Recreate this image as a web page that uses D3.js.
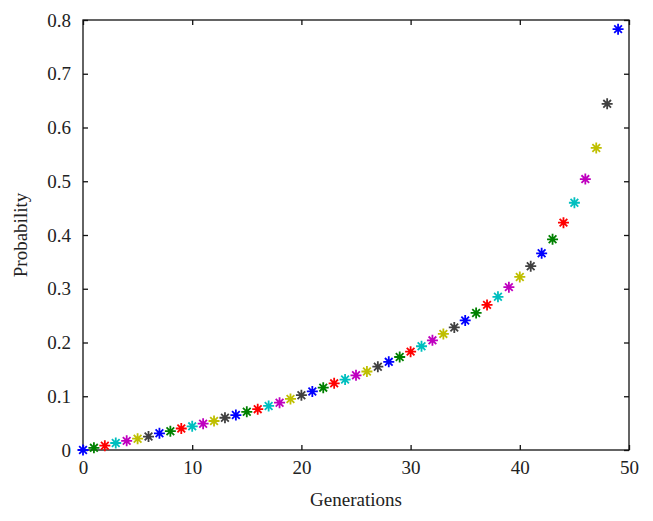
<!DOCTYPE html>
<html>
<head>
<meta charset="utf-8">
<script src="https://d3js.org/d3.v7.min.js"></script>
<style>
  body { margin: 0; background: #fff; }
  text { font-family: "Liberation Serif", "DejaVu Serif", serif; fill: #222; }
</style>
</head>
<body>
<div id="chart"></div>
<script>
// values
var generations = d3.range(0, 50);
var probability = [0, 0.004, 0.008, 0.013, 0.017, 0.021, 0.025, 0.031, 0.035, 0.040,
                   0.044, 0.049, 0.054, 0.060, 0.065, 0.071, 0.076, 0.082, 0.088, 0.095,
                   0.102, 0.109, 0.116, 0.124, 0.131, 0.139, 0.146, 0.155, 0.164, 0.173,
                   0.183, 0.193, 0.204, 0.216, 0.228, 0.241, 0.255, 0.270, 0.285, 0.303,
                   0.322, 0.342, 0.366, 0.392, 0.423, 0.460, 0.504, 0.562, 0.644, 0.783];
var colorCycle = ["#0000ff", "#008000", "#ff0000", "#00bfbf", "#bf00bf", "#bfbf00", "#404040"];
var xTicks = [0, 10, 20, 30, 40, 50];
var yTicks = [0, 0.1, 0.2, 0.3, 0.4, 0.5, 0.6, 0.7, 0.8];

var W = 653, H = 521;
var margin = {top: 20, right: 24, bottom: 71, left: 83};
var width = W - margin.left - margin.right;
var height = H - margin.top - margin.bottom;

var x = d3.scaleLinear().domain([0, 50]).range([0, width]);
var y = d3.scaleLinear().domain([0, 0.8]).range([height, 0]);

var svg = d3.select("#chart").append("svg")
    .attr("width", W).attr("height", H)
  .append("g")
    .attr("transform", "translate(" + margin.left + "," + margin.top + ")");

// box
svg.append("rect")
   .attr("width", width).attr("height", height)
   .attr("fill", "none").attr("stroke", "#111").attr("stroke-width", 1.3);

// axes with inward ticks
function styleAxis(g) {
  g.select(".domain").remove();
  g.selectAll(".tick line").attr("stroke", "#111").attr("stroke-width", 1.3);
  g.selectAll(".tick text").style("font-size", "19px").attr("fill", "#222");
}
svg.append("g").attr("transform", "translate(0," + height + ")")
   .call(d3.axisBottom(x).tickValues(xTicks).tickSizeInner(-5).tickPadding(11).tickFormat(d3.format("d")))
   .call(styleAxis);
svg.append("g")
   .call(d3.axisTop(x).tickValues(xTicks).tickSizeInner(-5).tickFormat(""))
   .call(styleAxis);
svg.append("g")
   .call(d3.axisLeft(y).tickValues(yTicks).tickSizeInner(-5).tickPadding(12).tickFormat(function(d){ return d === 0 ? "0" : d3.format(".1f")(d); }))
   .call(styleAxis);
svg.append("g").attr("transform", "translate(" + width + ",0)")
   .call(d3.axisRight(y).tickValues(yTicks).tickSizeInner(-5).tickFormat(""))
   .call(styleAxis);

// asterisk markers
var r = 5.5;
var star = "M" + (-r) + ",0L" + r + ",0M0," + (-r) + "L0," + r +
           "M" + (-r*0.7) + "," + (-r*0.7) + "L" + (r*0.7) + "," + (r*0.7) +
           "M" + (-r*0.7) + "," + (r*0.7) + "L" + (r*0.7) + "," + (-r*0.7);
svg.selectAll("path.pt")
   .data(generations)
   .enter().append("path")
   .attr("class", "pt")
   .attr("d", star)
   .attr("transform", function(d, i){ return "translate(" + x(d) + "," + y(probability[i]) + ")"; })
   .attr("fill", "none")
   .attr("stroke", function(d, i){ return colorCycle[i % colorCycle.length]; })
   .attr("stroke-width", 1.8);

// labels
svg.append("text")
   .attr("x", width / 2).attr("y", height + 56)
   .attr("text-anchor", "middle").style("font-size", "19px")
   .text("Generations");
svg.append("text")
   .attr("transform", "translate(-56," + (height / 2) + ") rotate(-90)")
   .attr("text-anchor", "middle").style("font-size", "19px")
   .text("Probability");
</script>
</body>
</html>
